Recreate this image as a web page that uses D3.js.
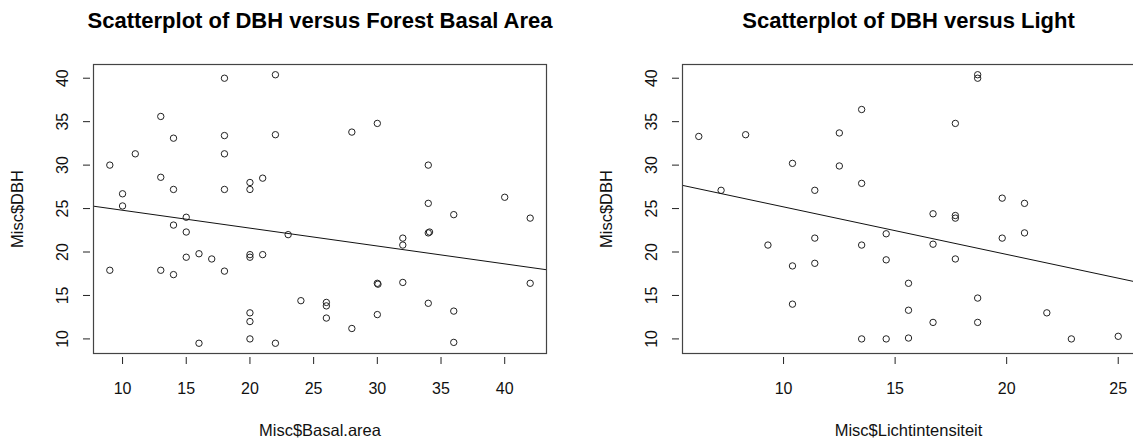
<!DOCTYPE html>
<html><head><meta charset="utf-8">
<script src="https://cdn.jsdelivr.net/npm/d3@7"></script>
<style>body{margin:0;background:#fff;overflow:hidden;} svg{display:block;font-family:"Liberation Sans",Arial,sans-serif;}</style>
</head><body><svg id="c" width="1133" height="443"></svg>
<script>
const basalArea = [18,22,13,14,18,22,11,18,9,13,21,20,20,14,18,10,10,15,14,15,23,16,15,17,20,20,21,9,13,14,18,24,20,20,20,16,22,28,30,34,34,40,36,42,34,34.1,32,32,30,30.05,32,42,26,26,26,28,30,34,36,36];
const dbhBasal = [40.0,40.4,35.6,33.1,33.4,33.5,31.3,31.3,30.0,28.6,28.5,28.0,27.2,27.2,27.2,26.7,25.3,24.0,23.1,22.3,22.0,19.8,19.4,19.2,19.7,19.4,19.7,17.9,17.9,17.4,17.8,14.4,13.0,12.0,10.0,9.5,9.5,33.8,34.8,30.0,25.6,26.3,24.3,23.9,22.2,22.3,21.6,20.8,16.4,16.3,16.5,16.4,14.2,13.8,12.4,11.2,12.8,14.1,13.2,9.6];
const lichtIntensiteit = [6.2,8.3,13.5,12.5,10.4,12.5,13.5,7.2,11.4,9.3,11.4,10.4,11.4,13.5,14.6,14.6,10.4,13.5,14.6,15.6,15.6,15.6,18.7,18.7,17.7,19.8,20.8,16.7,17.7,17.7,19.8,20.8,16.7,17.7,18.7,16.7,18.7,21.8,22.9,25.0];
const dbhLicht = [33.3,33.5,36.4,33.7,30.2,29.9,27.9,27.1,27.1,20.8,21.6,18.4,18.7,20.8,22.1,19.1,14.0,10.0,10.0,16.4,13.3,10.1,40.4,40.0,34.8,26.2,25.6,24.4,24.2,23.9,21.6,22.2,20.9,19.2,14.7,11.9,11.9,13.0,10.0,10.3];
const xTicksBasal = [10,15,20,25,30,35,40];
const xTicksLicht = [10,15,20,25];
const yTicks = [10,15,20,25,30,35,40];
const fitBasal = [26.86, -0.2056];
const fitLicht = [30.66, -0.5468];
const titles = ["Scatterplot of DBH versus Forest Basal Area", "Scatterplot of DBH versus Light"];
const xLabels = ["Misc$Basal.area", "Misc$Lichtintensiteit"];
const yLabel = "Misc$DBH";

const svg = d3.select("#c");
function pad(ext){ const s = ext[1]-ext[0]; return [ext[0]-0.04*s, ext[1]+0.04*s]; }
const yDom = pad(d3.extent(dbhBasal.concat(dbhLicht)));

const panels = [
  {box:[93,547,64,354], xs:basalArea, ys:dbhBasal, xt:xTicksBasal, fit:fitBasal, title:titles[0], xl:xLabels[0]},
  {box:[682,1135,64,354], xs:lichtIntensiteit, ys:dbhLicht, xt:xTicksLicht, fit:fitLicht, title:titles[1], xl:xLabels[1]}
];

panels.forEach((p,i)=>{
  const [L,R,T,B] = p.box;
  const x = d3.scaleLinear().domain(pad(d3.extent(p.xs))).range([L,R]);
  const y = d3.scaleLinear().domain(yDom).range([B,T]);
  const g = svg.append("g");
  const clipId = "clip"+i;
  svg.append("clipPath").attr("id",clipId).append("rect").attr("x",L).attr("y",T).attr("width",R-L).attr("height",B-T);

  const xa = g.append("g");
  xa.selectAll("line").data(p.xt).join("line")
    .attr("x1",d=>x(d)).attr("x2",d=>x(d)).attr("y1",B+3).attr("y2",B+10)
    .attr("stroke","#222").attr("stroke-width",1);
  xa.selectAll("text").data(p.xt).join("text")
    .attr("x",d=>x(d)).attr("y",B+40).attr("text-anchor","middle")
    .attr("font-size",16).attr("fill","#111").text(d=>d);
  const ya = g.append("g");
  ya.selectAll("line").data(yTicks).join("line")
    .attr("x1",L-10).attr("x2",L-3).attr("y1",d=>y(d)).attr("y2",d=>y(d))
    .attr("stroke","#222").attr("stroke-width",1);
  ya.selectAll("text").data(yTicks).join("text")
    .attr("transform",d=>`translate(${L-25},${y(d)}) rotate(-90)`)
    .attr("text-anchor","middle").attr("font-size",16).attr("fill","#111").text(d=>d);

  g.append("g").selectAll("circle").data(p.xs.map((v,k)=>[v,p.ys[k]])).join("circle")
    .attr("cx",d=>x(d[0])).attr("cy",d=>y(d[1])).attr("r",3.2)
    .attr("fill","none").attr("stroke","#222").attr("stroke-width",1);

  const xd = x.domain();
  g.append("line").attr("clip-path",`url(#${clipId})`)
    .attr("x1",x(xd[0])).attr("y1",y(p.fit[0]+p.fit[1]*xd[0]))
    .attr("x2",x(xd[1])).attr("y2",y(p.fit[0]+p.fit[1]*xd[1]))
    .attr("stroke","#111").attr("stroke-width",1);

  g.append("rect").attr("x",L+0.5).attr("y",T+0.5).attr("width",R-L-1).attr("height",B-T-1)
    .attr("fill","none").attr("stroke","#444").attr("stroke-width",1.2);

  g.append("text").attr("x",(L+R)/2).attr("y",28).attr("text-anchor","middle")
    .attr("font-size",22).attr("font-weight","bold").attr("fill","#000").text(p.title);
  g.append("text").attr("x",(L+R)/2).attr("y",B+82).attr("text-anchor","middle")
    .attr("font-size",16.5).attr("fill","#111").text(p.xl);
  g.append("text").attr("transform",`translate(${L-70},${(T+B)/2}) rotate(-90)`)
    .attr("text-anchor","middle").attr("font-size",16.5).attr("fill","#111").text(yLabel);
});
</script></body></html>
